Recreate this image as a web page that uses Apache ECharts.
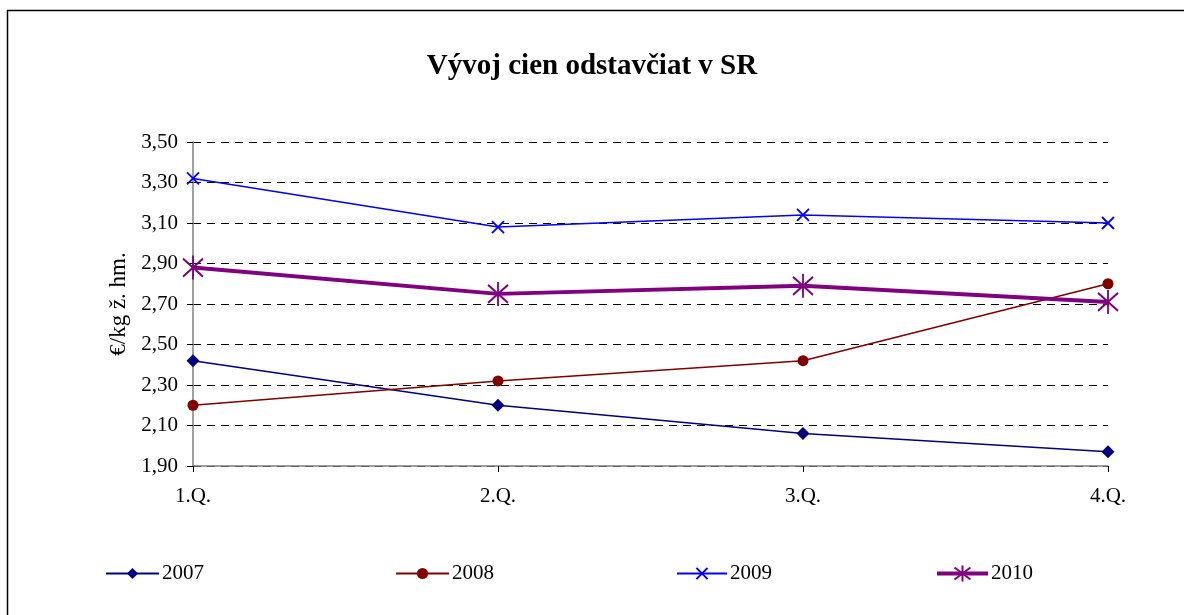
<!DOCTYPE html>
<html>
<head>
<meta charset="utf-8">
<script src="https://cdn.jsdelivr.net/npm/echarts@6/dist/echarts.min.js"></script>
<style>
  html, body { margin: 0; padding: 0; background: #fff; }
  #chart { width: 1184px; height: 615px; }
</style>
</head>
<body>
<div id="chart"></div>
<script>
// údaje
var quarters = ['1.Q.', '2.Q.', '3.Q.', '4.Q.'];
var y2007 = [2.42, 2.20, 2.06, 1.97];
var y2008 = [2.20, 2.32, 2.42, 2.80];
var y2009 = [3.32, 3.08, 3.14, 3.10];
var y2010 = [2.88, 2.75, 2.79, 2.71];

var font = 'Liberation Serif, Times New Roman, serif';
var chart = echarts.init(document.getElementById('chart'));

var xMark = 'path://M0,0L10,10M10,0L0,10';
var starMark = 'path://M5,0L5,12M0,1.5L10,10.5M10,1.5L0,10.5';

function legendAt(name, left, w, h, lw) {
    return {
        data: [name],
        left: left,
        top: 558,
        itemWidth: w,
        itemHeight: h,
        itemGap: 0,
        lineStyle: { width: lw },
        textStyle: { fontFamily: font, fontSize: 21, color: '#000', padding: [0, 0, 0, -2] }
    };
}

chart.setOption({
    animation: false,
    backgroundColor: '#fff',
    title: {
        text: 'Vývoj cien odstavčiat v SR',
        left: 'center',
        top: 47,
        textStyle: { fontFamily: font, fontSize: 29, fontWeight: 'bold', color: '#000' }
    },
    graphic: [{
        type: 'rect',
        shape: { x: 7.5, y: 10.5, width: 1300, height: 700 },
        style: { fill: 'none', stroke: '#000', lineWidth: 1.5 },
        silent: true
    }],
    legend: [
        legendAt('2007', 100, 53, 14, 2),
        legendAt('2008', 390, 53, 14, 2),
        legendAt('2009', 671, 50, 14, 2),
        legendAt('2010', 930, 51, 20, 4)
    ],
    grid: { left: 193, right: 76, top: 142, bottom: 149 },
    xAxis: {
        type: 'category',
        data: quarters,
        boundaryGap: false,
        axisLine: { lineStyle: { color: '#808080', width: 1.5 } },
        axisTick: { show: true, length: 6, lineStyle: { color: '#000' } },
        axisLabel: { fontFamily: font, fontSize: 21, color: '#000', margin: 20 }
    },
    yAxis: {
        type: 'value',
        min: 1.9,
        max: 3.5,
        interval: 0.2,
        name: '€/kg ž. hm.',
        nameLocation: 'middle',
        nameGap: 62,
        nameTextStyle: { fontFamily: font, fontSize: 23, color: '#000' },
        axisLine: { show: true, lineStyle: { color: '#808080', width: 1.5 } },
        axisTick: { show: true, length: 6, lineStyle: { color: '#000' } },
        axisLabel: {
            fontFamily: font, fontSize: 21, color: '#000', margin: 15,
            formatter: function (v) { return v.toFixed(2).replace('.', ','); }
        },
        splitLine: { show: true, lineStyle: { color: '#000', type: [8, 6], width: 1 } }
    },
    series: [
        {
            name: '2007', type: 'line', data: y2007,
            symbol: 'diamond', symbolSize: 13,
            lineStyle: { color: '#000080', width: 1.5 },
            itemStyle: { color: '#000080' }
        },
        {
            name: '2008', type: 'line', data: y2008,
            symbol: 'circle', symbolSize: 11,
            lineStyle: { color: '#800000', width: 1.5 },
            itemStyle: { color: '#800000' }
        },
        {
            name: '2009', type: 'line', data: y2009,
            symbol: xMark, symbolSize: 12,
            lineStyle: { color: '#0000ff', width: 1.5 },
            itemStyle: { color: '#0000ff', borderColor: '#0000ff', borderWidth: 1.8 }
        },
        {
            name: '2010', type: 'line', data: y2010,
            symbol: starMark, symbolSize: [20, 24],
            lineStyle: { color: '#800080', width: 4 },
            itemStyle: { color: '#800080', borderColor: '#800080', borderWidth: 2 }
        }
    ]
});
</script>
</body>
</html>
